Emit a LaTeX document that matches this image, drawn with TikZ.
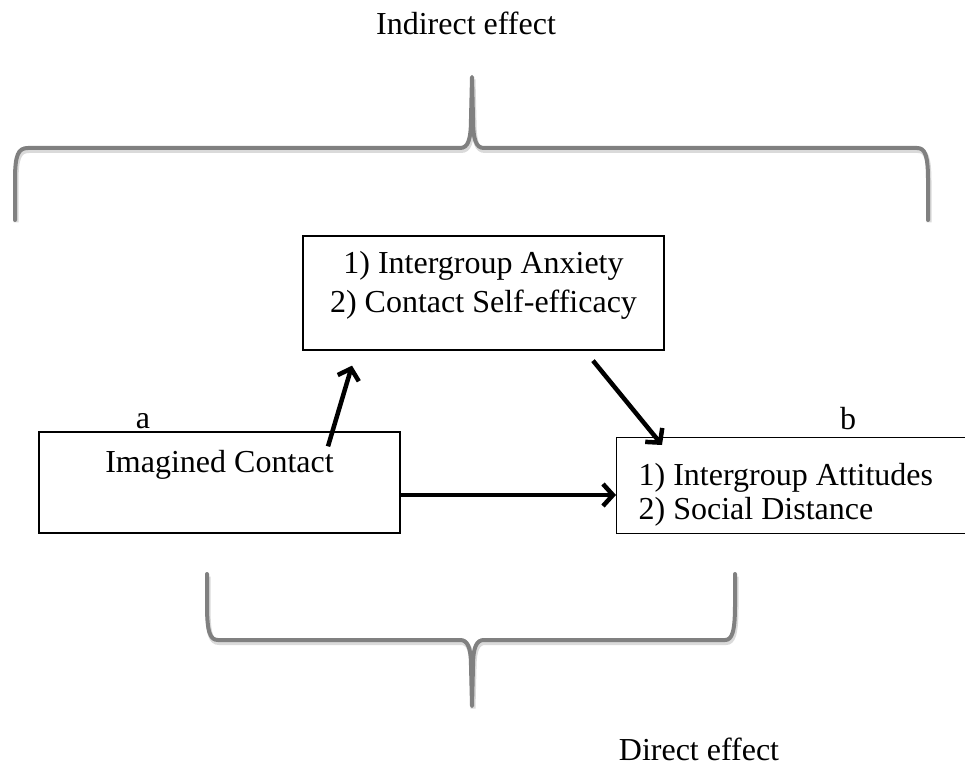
\documentclass[tikz,border=0pt]{standalone}
\usepackage{fontspec}
\setmainfont{Liberation Serif}
\usetikzlibrary{arrows.meta, positioning, calc}
\definecolor{bracegray}{RGB}{128,128,128}
\definecolor{shadowgray}{RGB}{218,218,218}

\begin{document}
\begin{tikzpicture}[
    x=1pt, y=-1pt,
    font=\fontsize{32}{39}\selectfont,
    box/.style={rectangle, draw, line width=1.3pt, inner sep=0pt},
    tag/.style={inner sep=0pt},
    arrow/.style={line width=4.5pt, -{Straight Barb[length=10pt,width=22pt]}},
    brace/.style={draw=bracegray, line width=4pt, line cap=round, line join=round,
        preaction={draw=shadowgray, line width=5pt, transform canvas={shift={(1pt,-2.5pt)}}}}
]
\useasboundingbox (0,0) rectangle (965,767);
\clip (0,0) rectangle (965,767);

% ---------- nodes ----------
\node[box, minimum width=361pt, minimum height=114pt, align=center, text depth=23pt] (med) at (483.5,293)
    {1) Intergroup Anxiety\\2) Contact Self-efficacy};
\node[box, minimum width=361pt, minimum height=101pt, text depth=43pt] (src) at (219.5,482.5) {Imagined Contact};
\node[box, anchor=north west, minimum width=380pt, minimum height=96pt, inner xsep=22pt, align=flush left,
    text width=336pt, text depth=22pt, font=\fontsize{32}{34}\selectfont] (out) at (616,437)
    {1) Intergroup Attitudes\\2) Social Distance};

% labels
\node[tag, anchor=base] (a) at (143,428) {a};
\node[tag, anchor=base] (b) at (848,429) {b};
\node[tag, anchor=base] (indirect) at (466,35) {Indirect effect};
\node[tag, anchor=base] (direct) at (699,760) {Direct effect};

% ---------- arrows ----------
\draw[arrow] ([xshift=108.5pt,yshift=-15pt]src.north) -- ([xshift=-131.5pt,yshift=-15pt]med.south);
\draw[arrow] ([xshift=109.5pt,yshift=-10pt]med.south) -- ([xshift=46pt,yshift=-8pt]out.north west);
\coordinate (h) at ($(src.east)+(0,12.5)$);
\draw[arrow] (h) -- (h -| out.west);

% ---------- braces ----------
% indirect effect (top)
\draw[brace] (15,220) -- (15,180) .. controls (15,155) and (18,148) .. (28,148) -- (460,148)
    .. controls (468,148) and (471,140) .. (471,118) -- (472,77) -- (473,118)
    .. controls (473,140) and (476,148) .. (484,148) -- (917,148)
    .. controls (925,148) and (928,155) .. (928,180) -- (928,220);
% direct effect (bottom)
\draw[brace] (207,574) -- (207,605) .. controls (207,632) and (210,640) .. (218,640) -- (460,640)
    .. controls (467,640) and (471,646) .. (471,666) -- (472,706) -- (473,666)
    .. controls (473,646) and (477,640) .. (484,640) -- (725,640)
    .. controls (732,640) and (735,632) .. (735,605) -- (735,574);

\end{tikzpicture}
\end{document}
